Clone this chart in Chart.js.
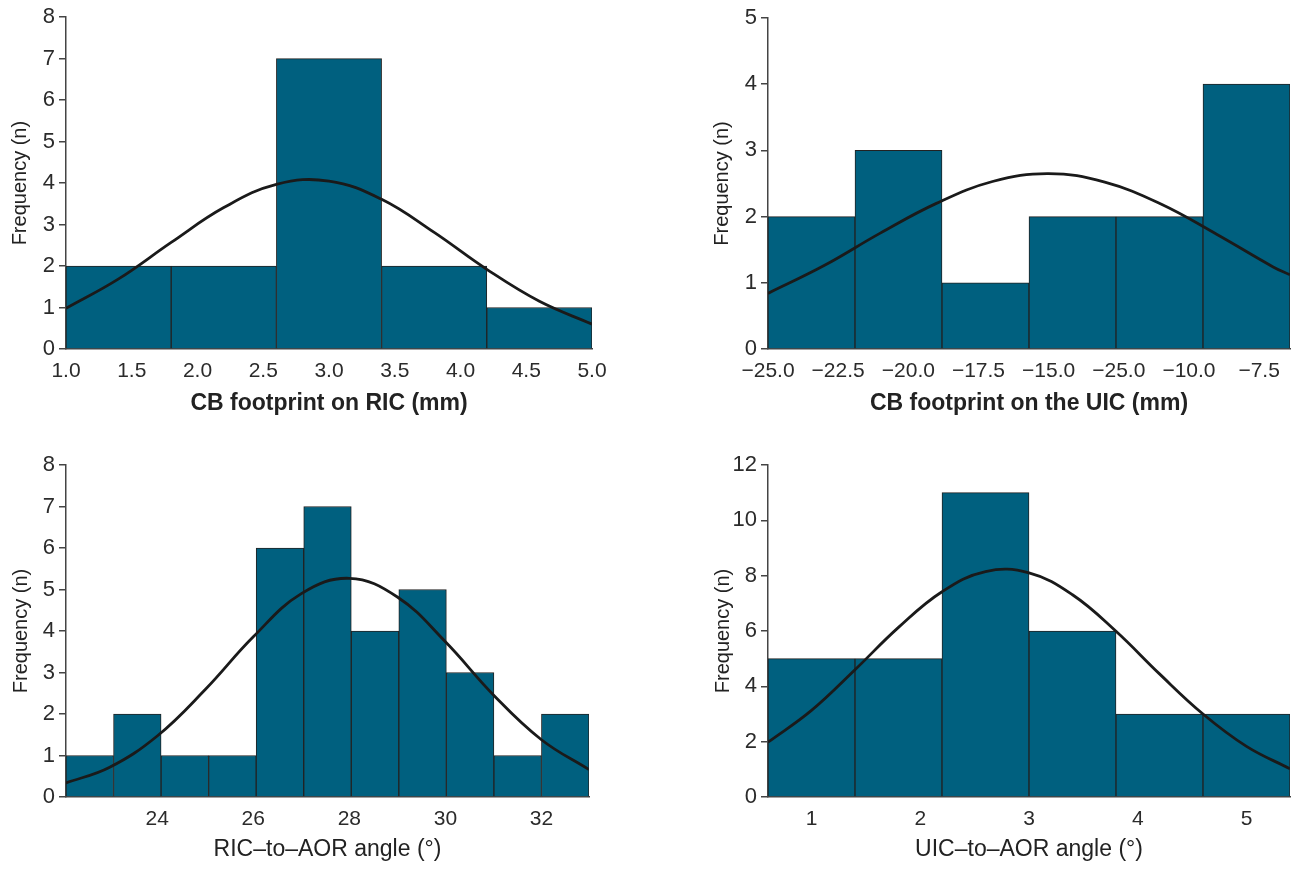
<!DOCTYPE html>
<html>
<head>
<meta charset="utf-8">
<title>Histograms with normal curves</title>
<script src="https://cdn.jsdelivr.net/npm/chart.js@4.4.1/dist/chart.umd.min.js"></script>
<style>
  body { margin: 0; background: #fff; }
  #wrap { position: relative; width: 1293px; height: 869px; overflow: hidden; }
  canvas { position: absolute; }
</style>
</head>
<body>
<div id="wrap">
  <canvas id="ricFoot" width="640" height="430" style="left:0px;top:0px"></canvas>
  <canvas id="uicFoot" width="603" height="430" style="left:690px;top:0px"></canvas>
  <canvas id="ricAngle" width="640" height="429" style="left:0px;top:440px"></canvas>
  <canvas id="uicAngle" width="603" height="429" style="left:690px;top:440px"></canvas>
</div>
<script>
// ---- values ----

// CB footprint on RIC (mm)
const ricFootBins = [1.4, 2.2, 3.0, 3.8, 4.6];          // bin centres, width 0.8
const ricFootCounts = [2, 2, 7, 2, 1];
const ricFootCurveX = [1.0, 1.4, 1.8, 2.2, 2.6, 3.0, 3.4, 3.8, 4.2, 4.6, 5.0];
const ricFootCurveY = [0.98, 1.69, 2.57, 3.41, 3.97, 4.05, 3.61, 2.81, 1.92, 1.15, 0.60];
const ricFootTicks = [1.0, 1.5, 2.0, 2.5, 3.0, 3.5, 4.0, 4.5, 5.0];

// CB footprint on the UIC (mm)
const uicFootBins = [-23.45, -20.35, -17.25, -14.15, -11.05, -7.95];   // width 3.1
const uicFootCounts = [2, 3, 1, 2, 2, 4];
const uicFootCurveX = [-25, -23, -21, -19, -17, -15, -13, -11, -9, -7, -6.4];
const uicFootCurveY = [0.84, 1.26, 1.75, 2.20, 2.53, 2.65, 2.52, 2.19, 1.73, 1.24, 1.12];
const uicFootTicks = [-25, -22.5, -20, -17.5, -15, -12.5, -10, -7.5];
const uicFootTickLabels = ['\u221225.0', '\u221222.5', '\u221220.0', '\u221217.5',
                           '\u221215.0', '\u221225.0', '\u221210.0', '\u22127.5'];

// RIC-to-AOR angle (deg)
const ricAngleBins = [22.595, 23.585, 24.575, 25.565, 26.555, 27.545,
                      28.535, 29.525, 30.515, 31.505, 32.495];          // width 0.99
const ricAngleCounts = [1, 2, 1, 1, 6, 7, 4, 5, 3, 1, 2];
const ricAngleCurveX = [22.1, 23, 24, 25, 26, 27, 28, 29, 30, 31, 32, 32.99];
const ricAngleCurveY = [0.34, 0.71, 1.47, 2.59, 3.86, 4.90, 5.27, 4.82, 3.74, 2.46, 1.38, 0.66];
const ricAngleTicks = [24, 26, 28, 30, 32];

// UIC-to-AOR angle (deg)
const uicAngleBins = [1.0, 1.8, 2.6, 3.4, 4.2, 5.0];     // width 0.8
const uicAngleCounts = [5, 5, 11, 6, 3, 3];
const uicAngleCurveX = [0.6, 1.0, 1.4, 1.8, 2.2, 2.6, 3.0, 3.4, 3.8, 4.2, 4.6, 5.0, 5.4];
const uicAngleCurveY = [1.98, 3.13, 4.60, 6.13, 7.42, 8.15, 8.10, 7.31, 5.99, 4.45, 3.00, 1.83, 1.02];
const uicAngleTicks = [1, 2, 3, 4, 5];

// ---- drawing ----
const BAR_FILL = '#00607f';
const EDGE = '#222222';
const AXIS = '#444444';
const TEXT = '#2b2b2b';

Chart.defaults.font.family = "'Liberation Sans', Arial, sans-serif";
Chart.defaults.color = TEXT;

function drawHistogram(id, p) {
    const pts = (xs, ys) => xs.map((x, i) => ({x: x, y: ys[i]}));
    new Chart(document.getElementById(id), {
        type: 'bar',
        data: {
            datasets: [
                {
                    type: 'line',
                    data: pts(p.curveX, p.curveY),
                    xAxisID: 'x',
                    borderColor: '#1a1a1a',
                    borderWidth: 2.8,
                    pointRadius: 0,
                    tension: 0.4,
                    order: 0
                },
                {
                    type: 'bar',
                    data: pts(p.bins, p.counts),
                    xAxisID: 'xBins',
                    grouped: false,
                    backgroundColor: BAR_FILL,
                    borderColor: EDGE,
                    borderWidth: 1,
                    barPercentage: 1,
                    categoryPercentage: 1,
                    order: 1
                }
            ]
        },
        options: {
            responsive: false,
            animation: false,
            layout: {padding: {left: 0, top: p.top, right: p.right, bottom: 0}},
            plugins: {legend: {display: false}, tooltip: {enabled: false}},
            scales: {
                x: {
                    type: 'linear',
                    position: 'bottom',
                    min: p.min,
                    max: p.max,
                    offset: false,
                    grid: {display: false, drawTicks: false, offset: false},
                    border: {display: true, color: AXIS, width: 1.5},
                    afterBuildTicks: s => { s.ticks = p.ticks.map(v => ({value: v})); },
                    afterFit: s => { s.height = p.xh; },
                    ticks: {
                        autoSkip: false,
                        maxRotation: 0,
                        padding: 10,
                        font: {size: 21},
                        callback: (v, i) => p.tickLabels ? p.tickLabels[i] : p.fmt(v)
                    },
                    title: {
                        display: true,
                        text: p.xTitle,
                        color: '#222',
                        font: {size: 23, weight: p.bold ? 'bold' : 'normal'},
                        padding: {top: 0, bottom: p.titlePad}
                    }
                },
                xBins: {
                    type: 'linear',
                    position: 'bottom',
                    display: false,
                    min: p.min,
                    max: p.max,
                    offset: false,
                    afterBuildTicks: s => { s.ticks = p.bins.map(v => ({value: v})); }
                },
                y: {
                    min: 0,
                    max: p.yMax,
                    ticks: {stepSize: p.yStep, padding: 4, font: {size: 22}},
                    grid: {drawOnChartArea: false, drawTicks: true, tickLength: 7, color: AXIS, lineWidth: 1.5},
                    border: {display: true, color: AXIS, width: 1.5},
                    afterFit: s => { s.width = p.yw; },
                    title: {
                        display: true,
                        text: 'Frequency (n)',
                        color: '#222',
                        font: {size: 20},
                        padding: {top: p.yTitlePad, bottom: 0}
                    }
                }
            }
        }
    });
}

drawHistogram('ricFoot', {
    bins: ricFootBins, counts: ricFootCounts, curveX: ricFootCurveX, curveY: ricFootCurveY,
    ticks: ricFootTicks, fmt: v => v.toFixed(1), min: 1.0, max: 5.0, yMax: 8, yStep: 1,
    xTitle: 'CB footprint on RIC (mm)', bold: true,
    top: 15, right: 48, yw: 66, xh: 81, titlePad: 13, yTitlePad: 8
});

drawHistogram('uicFoot', {
    bins: uicFootBins, counts: uicFootCounts, curveX: uicFootCurveX, curveY: uicFootCurveY,
    ticks: uicFootTicks, tickLabels: uicFootTickLabels, min: -25, max: -6.4, yMax: 5, yStep: 1,
    xTitle: 'CB footprint on the UIC (mm)', bold: true,
    top: 18, right: 3, yw: 78, xh: 81, titlePad: 13, yTitlePad: 20
});

drawHistogram('ricAngle', {
    bins: ricAngleBins, counts: ricAngleCounts, curveX: ricAngleCurveX, curveY: ricAngleCurveY,
    ticks: ricAngleTicks, fmt: v => String(v), min: 22.1, max: 32.99, yMax: 8, yStep: 1,
    xTitle: 'RIC\u2013to\u2013AOR angle (\u00b0)', bold: false,
    top: 25, right: 51, yw: 66, xh: 72, titlePad: 6, yTitlePad: 9
});

drawHistogram('uicAngle', {
    bins: uicAngleBins, counts: uicAngleCounts, curveX: uicAngleCurveX, curveY: uicAngleCurveY,
    ticks: uicAngleTicks, fmt: v => String(v), min: 0.6, max: 5.4, yMax: 12, yStep: 2,
    xTitle: 'UIC\u2013to\u2013AOR angle (\u00b0)', bold: false,
    top: 25, right: 3, yw: 78, xh: 72, titlePad: 6, yTitlePad: 21
});
</script>
</body>
</html>
